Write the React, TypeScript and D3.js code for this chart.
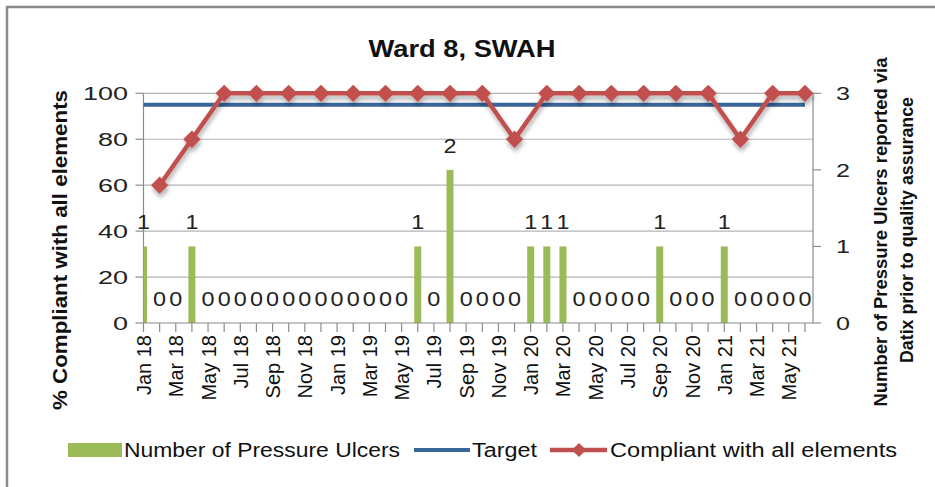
import React, { useEffect, useRef } from "react";
import * as d3 from "d3";

// months on the category axis (one bar per month)
const months = [
  "Jan 18", "Feb 18", "Mar 18", "Apr 18", "May 18", "Jun 18", "Jul 18", "Aug 18", "Sep 18", "Oct 18", "Nov 18", "Dec 18",
  "Jan 19", "Feb 19", "Mar 19", "Apr 19", "May 19", "Jun 19", "Jul 19", "Aug 19", "Sep 19", "Oct 19", "Nov 19", "Dec 19",
  "Jan 20", "Feb 20", "Mar 20", "Apr 20", "May 20", "Jun 20", "Jul 20", "Aug 20", "Sep 20", "Oct 20", "Nov 20", "Dec 20",
  "Jan 21", "Feb 21", "Mar 21", "Apr 21", "May 21", "Jun 21",
];

const tickLabels = [
  "Jan 18", "Mar 18", "May 18", "Jul 18", "Sep 18", "Nov 18",
  "Jan 19", "Mar 19", "May 19", "Jul 19", "Sep 19", "Nov 19",
  "Jan 20", "Mar 20", "May 20", "Jul 20", "Sep 20", "Nov 20",
  "Jan 21", "Mar 21", "May 21",
];

// Number of Pressure Ulcers (secondary axis)
const ulcers = [
  1, 0, 0, 1, 0, 0, 0, 0, 0, 0, 0, 0,
  0, 0, 0, 0, 0, 1, 0, 2, 0, 0, 0, 0,
  1, 1, 1, 0, 0, 0, 0, 0, 1, 0, 0, 0,
  1, 0, 0, 0, 0, 0,
];

// Compliant with all elements (audited every other month)
const complianceMonths = [
  "Feb 18", "Apr 18", "Jun 18", "Aug 18", "Oct 18", "Dec 18",
  "Feb 19", "Apr 19", "Jun 19", "Aug 19", "Oct 19", "Dec 19",
  "Feb 20", "Apr 20", "Jun 20", "Aug 20", "Oct 20", "Dec 20",
  "Feb 21", "Apr 21", "Jun 21",
];
const compliance = [
  60, 80, 100, 100, 100, 100,
  100, 100, 100, 100, 100, 80,
  100, 100, 100, 100, 100, 100,
  80, 100, 100,
];

const targetValue = 95;

const leftTicks = [0, 20, 40, 60, 80, 100];
const rightTicks = [0, 1, 2, 3];

const GREEN = "#9BBB59";
const BLUE = "#3A6599";
const RED = "#C0504D";
const FONT = "'Liberation Sans', Arial, sans-serif";

export default function App() {
  const svgRef = useRef<SVGSVGElement | null>(null);

  useEffect(() => {
    if (!svgRef.current) return;
    const svg = d3.select(svgRef.current);
    svg.selectAll("*").remove();

    const W = 935;
    const H = 487;
    const left = 143.5;
    const right = 813;
    const top = 93.3;
    const bottom = 323;

    svg.append("rect").attr("width", W).attr("height", H).attr("fill", "#fff");
    // chart frame (only top/left visible in the crop)
    svg.append("rect")
      .attr("x", 7).attr("y", 7).attr("width", W + 20).attr("height", H + 20)
      .attr("fill", "none").attr("stroke", "#8a8a8a").attr("stroke-width", 2.5);

    const defs = svg.append("defs");
    defs.append("clipPath").attr("id", "plotClip")
      .append("rect").attr("x", left).attr("y", top - 20)
      .attr("width", right - left).attr("height", bottom - top + 20);
    const f = defs.append("filter").attr("id", "shadow")
      .attr("x", "-10%").attr("y", "-10%").attr("width", "120%").attr("height", "140%");
    f.append("feDropShadow").attr("dx", 1).attr("dy", 4).attr("stdDeviation", 2)
      .attr("flood-color", "#000").attr("flood-opacity", 0.3);

    const x = d3.scaleLinear().domain([0, 41.5]).range([left, right]);
    const y = d3.scaleLinear().domain([0, 100]).range([bottom, top]);
    const y2 = d3.scaleLinear().domain([0, 3]).range([bottom, top]);
    const xm = (m: string) => x(months.indexOf(m));

    // title
    svg.append("text")
      .attr("x", 462).attr("y", 57).attr("text-anchor", "middle")
      .attr("font-family", FONT).attr("font-weight", "bold").attr("font-size", 23)
      .attr("textLength", 187).attr("lengthAdjust", "spacingAndGlyphs")
      .attr("fill", "#111").text("Ward 8, SWAH");

    // gridlines
    svg.append("g").selectAll("line").data(leftTicks.filter((d) => d > 0)).join("line")
      .attr("x1", left).attr("x2", right)
      .attr("y1", (d) => y(d)).attr("y2", (d) => y(d))
      .attr("stroke", "#b3b3b3").attr("stroke-width", 1.2);

    // left axis
    const gl = svg.append("g");
    gl.append("line").attr("x1", left).attr("x2", left).attr("y1", top).attr("y2", bottom)
      .attr("stroke", "#8c8c8c").attr("stroke-width", 1.2);
    gl.selectAll("line.t").data(leftTicks).join("line").attr("class", "t")
      .attr("x1", left - 8).attr("x2", left).attr("y1", (d) => y(d)).attr("y2", (d) => y(d))
      .attr("stroke", "#8c8c8c").attr("stroke-width", 1.2);
    gl.selectAll("text").data(leftTicks).join("text")
      .attr("x", 128).attr("y", (d) => y(d)).attr("dy", "0.36em")
      .attr("text-anchor", "end").attr("font-family", FONT).attr("font-size", 19)
      .attr("textLength", (d) => String(d).length * 15).attr("lengthAdjust", "spacingAndGlyphs")
      .attr("fill", "#222").text((d) => d);

    // right axis
    const gr = svg.append("g");
    gr.append("line").attr("x1", right).attr("x2", right).attr("y1", top).attr("y2", bottom)
      .attr("stroke", "#8c8c8c").attr("stroke-width", 1.2);
    gr.selectAll("line.t").data(rightTicks).join("line").attr("class", "t")
      .attr("x1", right).attr("x2", right + 8).attr("y1", (d) => y2(d)).attr("y2", (d) => y2(d))
      .attr("stroke", "#8c8c8c").attr("stroke-width", 1.2);
    gr.selectAll("text").data(rightTicks).join("text")
      .attr("x", 836).attr("y", (d) => y2(d)).attr("dy", "0.36em")
      .attr("text-anchor", "start").attr("font-family", FONT).attr("font-size", 19)
      .attr("textLength", 14).attr("lengthAdjust", "spacingAndGlyphs")
      .attr("fill", "#222").text((d) => d);

    // bars
    const plot = svg.append("g").attr("clip-path", "url(#plotClip)");
    plot.selectAll("rect").data(ulcers).join("rect")
      .attr("x", (_, i) => x(i) - 3.5).attr("width", 7)
      .attr("y", (d) => y2(d)).attr("height", (d) => bottom - y2(d))
      .attr("fill", GREEN);

    // bar value labels
    svg.append("g").selectAll("text").data(ulcers).join("text")
      .attr("x", (_, i) => x(i)).attr("y", (d) => y2(d) - 17)
      .attr("text-anchor", "middle").attr("font-family", FONT).attr("font-size", 20)
      .attr("textLength", 13).attr("lengthAdjust", "spacingAndGlyphs")
      .attr("fill", "#222").text((d) => d);

    // x axis
    const gx = svg.append("g");
    gx.append("line").attr("x1", left).attr("x2", right).attr("y1", bottom).attr("y2", bottom)
      .attr("stroke", "#8c8c8c").attr("stroke-width", 1.2);
    gx.selectAll("line.t").data(months).join("line").attr("class", "t")
      .attr("x1", (_, i) => x(i)).attr("x2", (_, i) => x(i))
      .attr("y1", bottom).attr("y2", bottom + 9)
      .attr("stroke", "#8c8c8c").attr("stroke-width", 1.2);
    gx.selectAll("text").data(tickLabels).join("text")
      .attr("transform", (d) => `translate(${xm(d) + 7.5},${bottom + 12}) rotate(-90)`)
      .attr("text-anchor", "end").attr("font-family", FONT).attr("font-size", 20)
      .attr("fill", "#111").text((d) => d);

    // target line
    svg.append("line")
      .attr("x1", x(0)).attr("x2", x(months.length - 1))
      .attr("y1", y(targetValue)).attr("y2", y(targetValue))
      .attr("stroke", BLUE).attr("stroke-width", 4);

    // compliance line + markers
    const pts = complianceMonths.map((m, i) => [xm(m), y(compliance[i])] as [number, number]);
    const gc = svg.append("g").attr("filter", "url(#shadow)");
    gc.append("path").datum(pts)
      .attr("d", d3.line())
      .attr("fill", "none").attr("stroke", RED).attr("stroke-width", 4.5)
      .attr("stroke-linejoin", "round");
    const diamond = d3.symbol().type(d3.symbolSquare).size(150);
    gc.selectAll("path.m").data(pts).join("path").attr("class", "m")
      .attr("d", diamond)
      .attr("transform", (d) => `translate(${d[0]},${d[1]}) rotate(45)`)
      .attr("fill", RED);

    // axis titles
    svg.append("text")
      .attr("transform", "translate(67,250) rotate(-90)")
      .attr("text-anchor", "middle").attr("font-family", FONT).attr("font-weight", "bold")
      .attr("font-size", 20).attr("textLength", 320).attr("lengthAdjust", "spacingAndGlyphs")
      .attr("fill", "#111").text("% Compliant with all elements");
    svg.append("text")
      .attr("transform", "translate(887,232) rotate(-90)")
      .attr("text-anchor", "middle").attr("font-family", FONT).attr("font-weight", "bold")
      .attr("font-size", 19).attr("textLength", 349).attr("lengthAdjust", "spacingAndGlyphs")
      .attr("fill", "#111").text("Number of Pressure Ulcers reported via");
    svg.append("text")
      .attr("transform", "translate(913,230) rotate(-90)")
      .attr("text-anchor", "middle").attr("font-family", FONT).attr("font-weight", "bold")
      .attr("font-size", 19).attr("textLength", 266).attr("lengthAdjust", "spacingAndGlyphs")
      .attr("fill", "#111").text("Datix prior to quality assurance");

    // legend
    const lg = svg.append("g").attr("font-family", FONT).attr("font-size", 20).attr("fill", "#111");
    lg.append("rect").attr("x", 68).attr("y", 443).attr("width", 54).attr("height", 14).attr("fill", GREEN);
    lg.append("text").attr("x", 124).attr("y", 457)
      .attr("textLength", 276).attr("lengthAdjust", "spacingAndGlyphs").text("Number of Pressure Ulcers");
    lg.append("line").attr("x1", 414).attr("x2", 470).attr("y1", 450).attr("y2", 450)
      .attr("stroke", BLUE).attr("stroke-width", 4);
    lg.append("text").attr("x", 472).attr("y", 457)
      .attr("textLength", 65).attr("lengthAdjust", "spacingAndGlyphs").text("Target");
    lg.append("line").attr("x1", 550).attr("x2", 607).attr("y1", 450).attr("y2", 450)
      .attr("stroke", RED).attr("stroke-width", 4.5);
    lg.append("path").attr("d", d3.symbol().type(d3.symbolSquare).size(100)())
      .attr("transform", "translate(579,450) rotate(45)").attr("fill", RED);
    lg.append("text").attr("x", 610).attr("y", 457)
      .attr("textLength", 287).attr("lengthAdjust", "spacingAndGlyphs").text("Compliant with all elements");
  }, []);

  return (
    <div style={{ position: "absolute", left: 0, top: 0 }}>
      <svg ref={svgRef} width={935} height={487} style={{ display: "block" }} />
    </div>
  );
}
